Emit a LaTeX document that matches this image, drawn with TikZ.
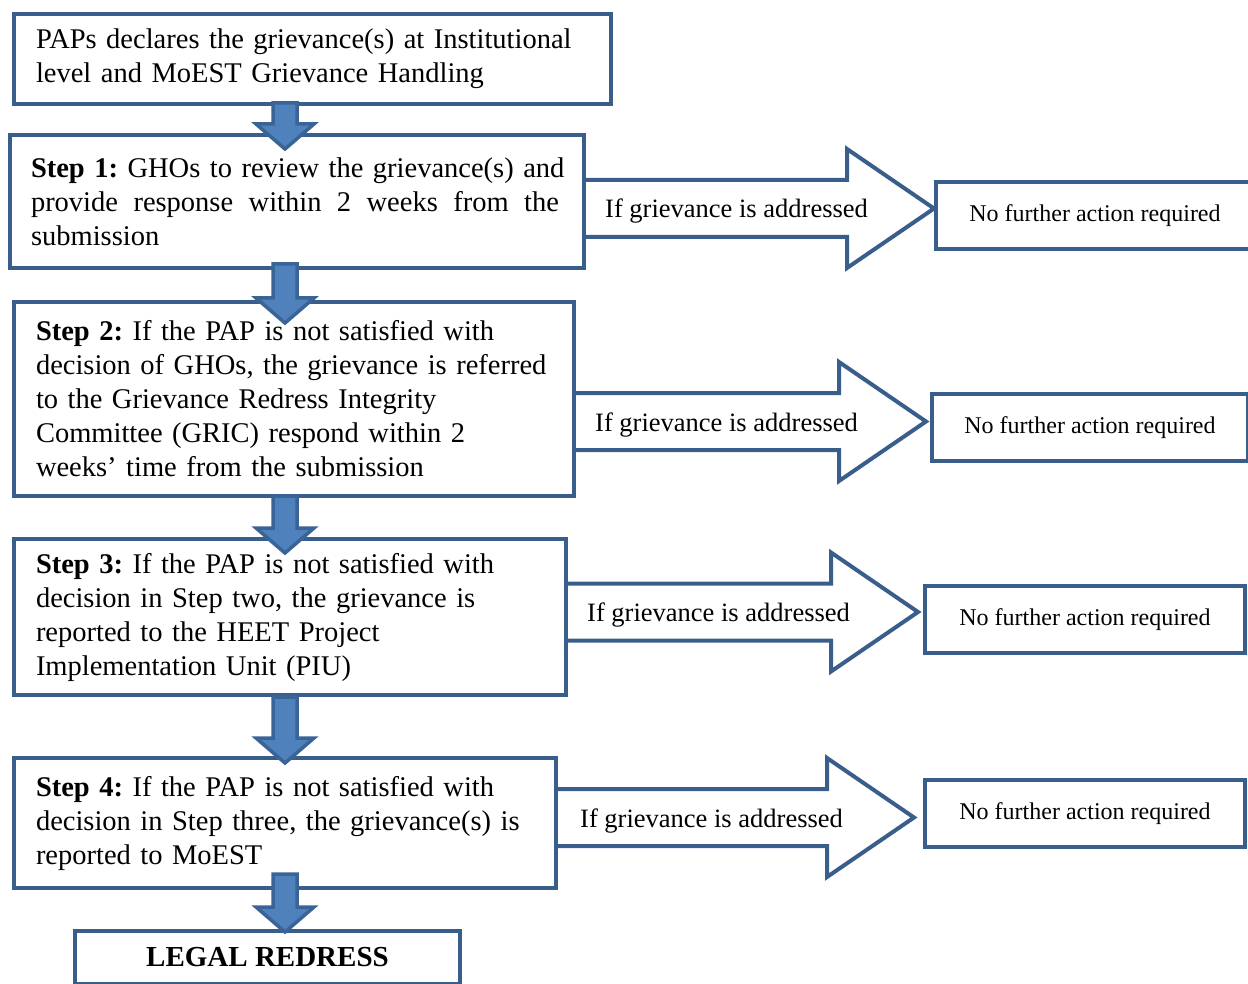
\documentclass[tikz,border=0pt]{standalone}
\usepackage{fontspec}
\setmainfont{Liberation Serif}
\usepackage{tikz}
\usetikzlibrary{calc}
\definecolor{BoxBlue}{HTML}{3A5E8C}
\definecolor{ArrowFill}{HTML}{4F81BD}
\definecolor{ArrowEdge}{HTML}{3A6496}

\tikzset{
  stepbox/.style={draw=BoxBlue,line width=4pt,anchor=north west,align=left,
    inner xsep=22pt,inner ysep=0pt,
    font=\fontsize{28.5}{34}\selectfont\frenchspacing},
  endbox/.style={draw=BoxBlue,line width=4pt,anchor=north west,inner sep=0pt,
    font=\fontsize{24}{28}\selectfont},
  ifnote/.style={anchor=west,inner sep=0pt,text height=19pt,text depth=0pt,
    font=\fontsize{26.5}{30}\selectfont},
  flowarrow/.style={draw=BoxBlue,line width=4pt},
  downarrow/.style={draw=ArrowEdge,fill=ArrowFill,line width=3.5pt},
}

% block arrow to the right: from box, to box, label, gap before target
\newcommand\blockright[4]{%
  \draw[flowarrow] let \p1=(#1.east |- #3.west), \p2=(#2.west |- #3.west) in
    (\x1,\y1+28.5) -- (\x2-#4-87,\y1+28.5) -- (\x2-#4-87,\y1+59.5) -- (\x2-#4,\y1)
    -- (\x2-#4-87,\y1-59.5) -- (\x2-#4-87,\y1-28.5) -- (\x1,\y1-28.5);}
% block arrow downwards: from box, to box, inset at top, overshoot at tip
\newcommand\blockdown[4]{%
  \draw[downarrow] let \p1=(spine |- #1.south), \p2=(spine |- #2.north) in
    (\x1-12,\y1+#3) -- (\x1+12,\y1+#3) -- (\x1+12,\y2-#4+25) -- (\x1+29,\y2-#4+25)
    -- (\x1,\y2-#4) -- (\x1-29,\y2-#4+25) -- (\x1-12,\y2-#4+25) -- cycle;}

\begin{document}
\begin{tikzpicture}[x=1pt,y=-1pt]
  \useasboundingbox (0,0) rectangle (1248,984);
  \coordinate (spine) at (285,0);

  % steps
  \node[stepbox,text width=553pt,minimum height=90pt] (s0) at (12,12)
    {\mbox{PAPs declares the grievance(s) at Institutional}\\
     level and MoEST Grievance Handling};
  \node[stepbox,inner xsep=21pt,text width=532pt,minimum height=133pt] (s1) at (8,133)
    {\mbox{\textbf{Step 1:} GHOs to review the grievance(s) and}\\
     \makebox[528pt][l]{provide\hfill response\hfill within\hfill 2\hfill weeks\hfill from\hfill the}\\
     submission};
  \node[stepbox,text width=516pt,minimum height=194pt] (s2) at (12,300)
    {\mbox{\textbf{Step 2:} If the PAP is not satisfied with}\\
     \mbox{decision of GHOs, the grievance is referred}\\
     to the Grievance Redress Integrity\\
     Committee (GRIC) respond within 2\\
     weeks’ time from the submission};
  \node[stepbox,text width=508pt,minimum height=156pt] (s3) at (12,537)
    {\mbox{\textbf{Step 3:} If the PAP is not satisfied with}\\
     decision in Step two, the grievance is\\
     reported to the HEET Project\\
     Implementation Unit (PIU)};
  \node[stepbox,text width=498pt,minimum height=130pt] (s4) at (12,756)
    {\mbox{\textbf{Step 4:} If the PAP is not satisfied with}\\
     \mbox{decision in Step three, the grievance(s) is}\\
     reported to MoEST};
  \node[endbox,minimum width=385pt,minimum height=53pt,
        font=\fontsize{29}{34}\selectfont\bfseries] (legal) at (73,929) {LEGAL REDRESS};

  % outcomes
  \node[endbox,minimum width=318pt,minimum height=67pt] (n1) at (934,180) {No further action required};
  \node[endbox,minimum width=316pt,minimum height=67pt] (n2) at (930,392) {No further action required};
  \node[endbox,minimum width=320pt,minimum height=67pt] (n3) at (923,584) {No further action required};
  \node[endbox,minimum width=320pt,minimum height=67pt] (n4) at (923,778) {No further action required};

  \node[ifnote] (c1) at (605,208.5) {If grievance is addressed};
  \node[ifnote] (c2) at (595,421.5) {If grievance is addressed};
  \node[ifnote] (c3) at (587,612) {If grievance is addressed};
  \node[ifnote] (c4) at (580,817.5) {If grievance is addressed};

  \blockright{s1}{n1}{c1}{0}
  \blockright{s2}{n2}{c2}{4}
  \blockright{s3}{n3}{c3}{5}
  \blockright{s4}{n4}{c4}{9}

  \blockdown{s0}{s1}{3}{16}
  \blockdown{s1}{s2}{6}{23}
  \blockdown{s2}{s3}{2}{16}
  \blockdown{s3}{s4}{0}{7}
  \blockdown{s4}{legal}{16}{3}
\end{tikzpicture}
\end{document}
